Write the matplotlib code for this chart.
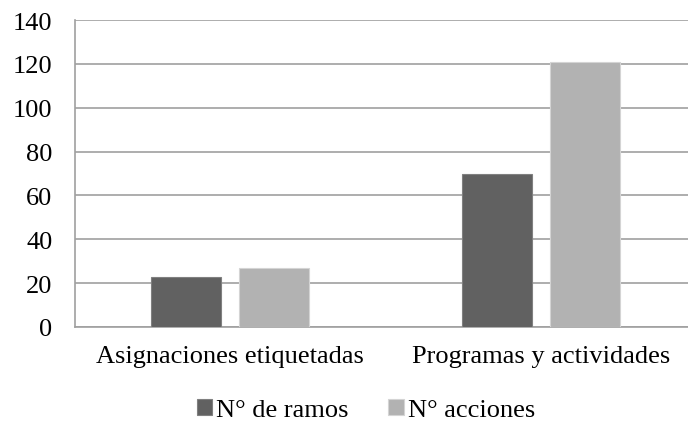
import os
import numpy as np
import matplotlib.pyplot as plt
from matplotlib import font_manager

serif_path = '/usr/share/fonts/truetype/liberation/LiberationSerif-Regular.ttf'
if os.path.exists(serif_path):
    font_manager.fontManager.addfont(serif_path)
    fp = font_manager.FontProperties(fname=serif_path, size=19)
else:
    fp = font_manager.FontProperties(family='serif', size=19)
plt.rcParams['font.family'] = fp.get_name()

categories = ['Asignaciones etiquetadas', 'Programas y actividades']
ramos = [23, 70]
acciones = [27, 121]
series_names = ['N° de ramos', 'N° acciones']

fig = plt.figure(figsize=(6.88, 4.27), dpi=100)
ax = fig.add_axes([74.5/688, 1 - 328/427, 622/688, 307/427])

x = np.arange(len(categories))
w = 0.225
off = 0.1425
ax.bar(x - off, ramos, w, color='#616161', edgecolor='#808080', linewidth=0.8,
       label=series_names[0], zorder=3)
ax.bar(x + off, acciones, w, color='#b2b2b2', edgecolor='#d4d4d4', linewidth=0.8,
       label=series_names[1], zorder=3)

ax.set_xlim(-0.5, 1.5)
ax.set_ylim(0, 140)
ax.set_yticks(np.arange(0, 141, 20))
ax.set_xticks(x)
ax.set_xticklabels(categories)
for lbl in ax.get_xticklabels() + ax.get_yticklabels():
    lbl.set_fontproperties(fp)
ax.yaxis.grid(True, color='#a0a0a0', linewidth=1.2, zorder=0)
ax.set_axisbelow(True)
for s in ['top', 'right']:
    ax.spines[s].set_visible(False)
for s in ['left', 'bottom']:
    ax.spines[s].set_color('#a0a0a0')
    ax.spines[s].set_linewidth(1.2)
ax.tick_params(axis='both', length=0, colors='black')
ax.tick_params(axis='y', pad=16)
ax.tick_params(axis='x', pad=13)

fig.legend(loc='center', bbox_to_anchor=(0.532, 1 - 411/427), ncol=2, frameon=False,
           prop=fp, handlelength=0.6, handleheight=0.6, handletextpad=0.15,
           columnspacing=1.5)

fig.savefig('out.png', dpi=100)
